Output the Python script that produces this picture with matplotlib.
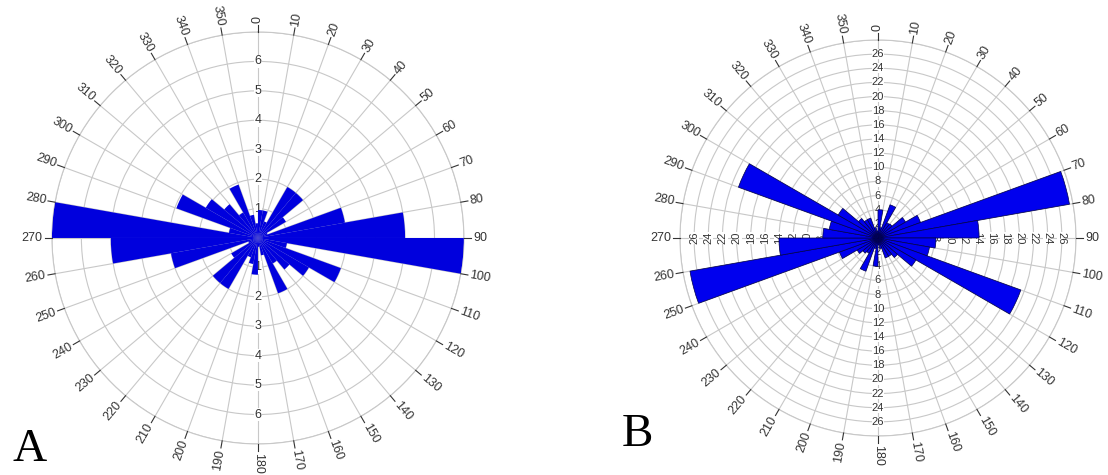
import numpy as np
import matplotlib
matplotlib.use('Agg')
import matplotlib.pyplot as plt

# bin starts (degrees, clockwise from north), 10 degree bins
bins = list(range(0, 360, 10))

# rose A: counts per bin
freq_a = [0.95, 0.95, 0.6, 2.0, 2.0, 1.1, 0.35, 3.0, 5.0, 7.0, 1.0, 3.0,
          2.0, 1.4, 1.0, 2.0, 0.6, 0.3, 1.25, 0.9, 0.7, 2.0, 2.0, 1.05,
          0.35, 3.0, 5.0, 7.0, 1.0, 2.95, 2.05, 1.5, 1.0, 1.93, 0.8, 0.5]

# rose B: counts per bin
freq_b = [4.0, 1.5, 5.0, 2.5, 2.6, 4.5, 6.4, 27.5, 14.3, 8.2, 7.4, 21.5,
          6.2, 3.6, 3.0, 3.0, 1.5, 1.0, 4.0, 1.5, 5.0, 2.5, 2.8, 3.4,
          5.8, 27.0, 14.0, 7.8, 7.0, 21.0, 6.5, 3.6, 3.0, 3.0, 1.5, 1.0]

rings_a = [1, 2, 3, 4, 5, 6, 7]
ring_labels_a = [1, 2, 3, 4, 5, 6]
rings_b = list(range(2, 30, 2))
ring_labels_b = list(range(2, 28, 2))
dir_labels = list(range(0, 360, 10))

GRID = '#c8c8c8'
TXT = '#333333'
plt.rcParams['font.family'] = ['Liberation Sans', 'DejaVu Sans']


def rose(ax, freq, rings, rmax, edge):
    ax.set_theta_zero_location('N')
    ax.set_theta_direction(-1)
    ax.set_ylim(0, rmax)
    ax.set_xticks(np.radians(dir_labels))
    ax.set_xticklabels([])
    ax.set_yticks(rings)
    ax.set_yticklabels([])
    ax.grid(True, color=GRID, lw=0.8, zorder=0)
    ax.spines['polar'].set_color(GRID)
    ax.set_axisbelow(True)
    th = np.radians(np.array(bins) + 5)
    if edge:
        ax.bar(th, freq, width=np.radians(10), color='#0000ee',
               edgecolor='#00004a', linewidth=0.5, zorder=3)
    else:
        ax.bar(th, freq, width=np.radians(10), color='#0000dd',
               edgecolor='none', zorder=3)
    # direction ticks and labels outside the circle
    for d in dir_labels:
        t = np.radians(d)
        ax.plot([t, t], [rmax, rmax * 1.035], color=TXT, lw=0.8,
                clip_on=False, zorder=4)
        if d <= 180:
            rot, ha = 90 - d, 'left'
        else:
            rot, ha = 270 - d, 'right'
        ax.text(t, rmax * 1.045, str(d), rotation=rot, ha=ha, va='center',
                rotation_mode='anchor', fontsize=9, color=TXT, clip_on=False)


fig = plt.figure(figsize=(11.08, 4.75), dpi=100)

ax_a = fig.add_axes([0.0469, 0.0653, 0.3718, 0.8674], projection='polar')
rose(ax_a, freq_a, rings_a, 7, False)
for k in ring_labels_a:
    for d in (0, 180):
        ax_a.text(np.radians(d), k, str(k), ha='center', va='center',
                  fontsize=9, color=TXT, zorder=2,
                  bbox=dict(fc='white', ec='none', pad=0.2))

ax_b = fig.add_axes([0.6137, 0.0821, 0.3574, 0.8337], projection='polar')
rose(ax_b, freq_b, rings_b, 28, True)
for k in ring_labels_b:
    for d, rot in ((0, 0), (180, 0), (90, -90), (270, 90)):
        ax_b.text(np.radians(d), k, str(k), ha='center', va='center',
                  rotation=rot, fontsize=8, color=TXT, zorder=2,
                  bbox=dict(fc='white', ec='none', pad=0.1))

fig.text(0.011, 0.03, 'A', fontsize=34, family='Liberation Serif')
fig.text(0.561, 0.062, 'B', fontsize=34, family='Liberation Serif')

fig.savefig('out.png', dpi=100)
